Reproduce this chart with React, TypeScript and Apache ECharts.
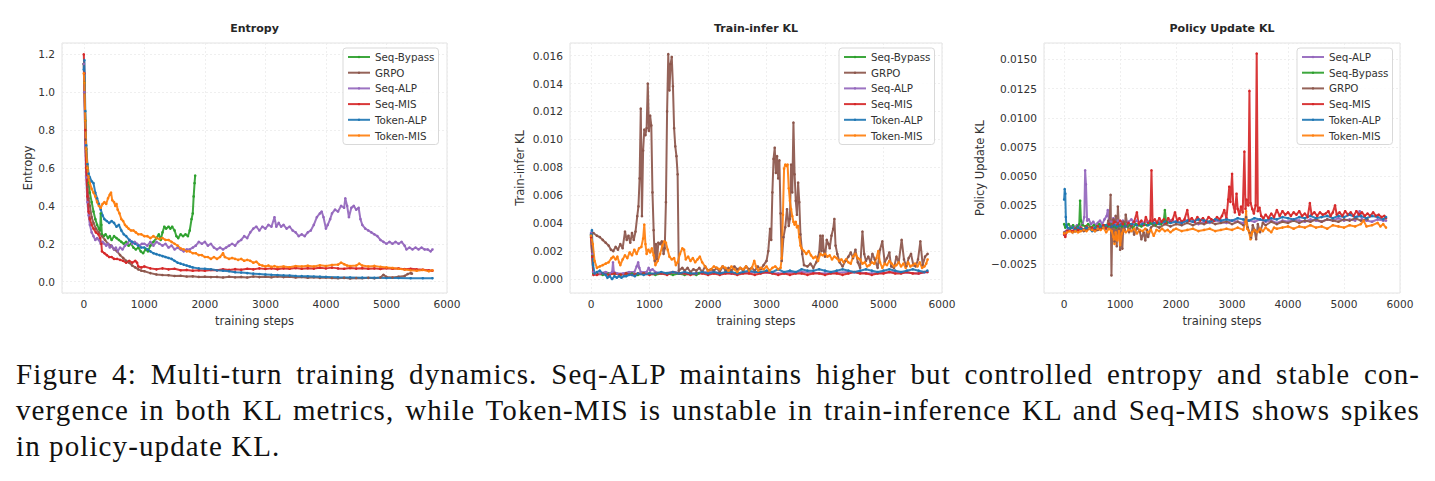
import React, { useEffect, useRef } from "react";
import * as echarts from "echarts";

type P = [number, number][];

const NAMES = ["Seq-Bypass", "GRPO", "Seq-ALP", "Seq-MIS", "Token-ALP", "Token-MIS"];
const COLORS: Record<string, string> = {
  "Seq-Bypass": "#2ca02c",
  GRPO: "#8c564b",
  "Seq-ALP": "#9467bd",
  "Seq-MIS": "#d62728",
  "Token-ALP": "#1f77b4",
  "Token-MIS": "#ff7f0e",
};
const PANEL_TITLES = ["Entropy", "Train-infer KL", "Policy Update KL"];
const Y_NAMES = ["Entropy", "Train-infer KL", "Policy Update KL"];
const X_NAME = "training steps";
const LEGEND_ORDER_1 = ["Seq-Bypass", "GRPO", "Seq-ALP", "Seq-MIS", "Token-ALP", "Token-MIS"];
const LEGEND_ORDER_3 = ["Seq-ALP", "Seq-Bypass", "GRPO", "Seq-MIS", "Token-ALP", "Token-MIS"];
const CAPTION = [
  "Figure 4: Multi-turn training dynamics. Seq-ALP maintains higher but controlled entropy and stable con-",
  "vergence in both KL metrics, while Token-MIS is unstable in train-inference KL and Seq-MIS shows spikes",
  "in policy-update KL.",
];

// ---------------- Entropy ----------------
const entSeqBypass: P = [[0,1.15],[10,1.05],[25,0.85],[40,0.7],[60,0.6],[80,0.52],[100,0.47],[130,0.42],[160,0.37],[190,0.33],[220,0.3],[250,0.28],[270,0.27],[280,0.36],[290,0.3],[300,0.25],[330,0.24],[360,0.25],[400,0.23],[430,0.24],[460,0.22],[500,0.24],[540,0.23],[580,0.22],[620,0.21],[660,0.2],[700,0.21],[740,0.19],[780,0.2],[820,0.18],[860,0.17],[900,0.18],[940,0.16],[980,0.15],[1020,0.17],[1060,0.16],[1100,0.19],[1150,0.21],[1200,0.23],[1240,0.25],[1270,0.22],[1300,0.26],[1330,0.29],[1360,0.28],[1400,0.29],[1430,0.28],[1460,0.29],[1500,0.27],[1530,0.24],[1560,0.23],[1600,0.25],[1640,0.24],[1680,0.25],[1720,0.24],[1750,0.27],[1780,0.33],[1800,0.36],[1815,0.45],[1830,0.52],[1840,0.56]];
const entGRPO: P = [[0,1.15],[10,1.0],[25,0.75],[40,0.6],[60,0.5],[80,0.44],[100,0.4],[130,0.34],[160,0.31],[200,0.28],[250,0.26],[300,0.24],[350,0.22],[400,0.2],[450,0.19],[500,0.17],[550,0.16],[600,0.14],[650,0.125],[700,0.11],[750,0.1],[800,0.085],[850,0.075],[900,0.065],[950,0.058],[1000,0.055],[1100,0.045],[1200,0.038],[1300,0.035],[1400,0.034],[1500,0.03],[1600,0.031],[1700,0.027],[1800,0.028],[1900,0.025],[2000,0.026],[2100,0.024],[2200,0.025],[2300,0.022],[2400,0.026],[2500,0.023],[2600,0.025],[2700,0.022],[2800,0.027],[2900,0.024],[3000,0.026],[3100,0.023],[3200,0.027],[3300,0.024],[3400,0.026],[3500,0.022],[3600,0.025],[3700,0.021],[3800,0.023],[3900,0.02],[4000,0.022],[4100,0.019],[4200,0.018],[4300,0.02],[4400,0.017],[4500,0.019],[4600,0.018],[4700,0.02],[4800,0.018],[4900,0.022],[4950,0.036],[5000,0.025],[5100,0.022],[5200,0.026],[5300,0.03],[5350,0.04],[5400,0.045],[5420,0.042]];
const entSeqALP: P = [[0,1.15],[10,1.0],[25,0.72],[40,0.55],[60,0.42],[80,0.35],[100,0.3],[130,0.26],[160,0.24],[190,0.22],[220,0.23],[250,0.22],[280,0.2],[310,0.21],[340,0.2],[370,0.19],[400,0.2],[430,0.18],[460,0.19],[500,0.17],[530,0.18],[560,0.16],[600,0.18],[640,0.17],[680,0.19],[720,0.2],[760,0.22],[800,0.2],[840,0.21],[880,0.2],[920,0.19],[960,0.2],[1000,0.2],[1050,0.19],[1100,0.21],[1150,0.19],[1200,0.21],[1250,0.2],[1300,0.19],[1350,0.2],[1400,0.18],[1450,0.19],[1500,0.17],[1550,0.18],[1600,0.17],[1650,0.16],[1700,0.17],[1750,0.17],[1800,0.18],[1850,0.19],[1900,0.21],[1950,0.2],[2000,0.21],[2050,0.19],[2100,0.2],[2150,0.18],[2200,0.17],[2250,0.18],[2300,0.17],[2350,0.18],[2400,0.19],[2450,0.2],[2500,0.19],[2550,0.21],[2600,0.22],[2650,0.24],[2700,0.23],[2750,0.26],[2800,0.28],[2850,0.29],[2900,0.27],[2950,0.29],[3000,0.28],[3050,0.3],[3100,0.29],[3150,0.34],[3180,0.29],[3220,0.31],[3260,0.29],[3300,0.3],[3350,0.28],[3400,0.29],[3450,0.27],[3500,0.26],[3550,0.24],[3600,0.25],[3650,0.24],[3700,0.26],[3750,0.27],[3800,0.3],[3850,0.34],[3900,0.36],[3930,0.37],[3960,0.34],[4000,0.28],[4030,0.3],[4070,0.33],[4100,0.36],[4150,0.38],[4200,0.37],[4250,0.4],[4300,0.39],[4320,0.44],[4350,0.4],[4380,0.34],[4420,0.39],[4460,0.4],[4500,0.38],[4540,0.39],[4570,0.33],[4600,0.3],[4650,0.28],[4700,0.27],[4750,0.26],[4800,0.25],[4850,0.24],[4900,0.22],[4950,0.21],[5000,0.2],[5050,0.21],[5100,0.2],[5150,0.21],[5200,0.2],[5250,0.21],[5300,0.19],[5330,0.17],[5380,0.18],[5430,0.17],[5480,0.18],[5530,0.17],[5580,0.18],[5630,0.17],[5680,0.17],[5730,0.16],[5760,0.17]];
const entSeqMIS: P = [[0,1.2],[10,1.1],[25,0.8],[40,0.6],[60,0.45],[80,0.37],[100,0.33],[130,0.3],[160,0.28],[200,0.26],[240,0.25],[270,0.23],[290,0.2],[300,0.16],[340,0.15],[380,0.14],[420,0.13],[460,0.13],[500,0.12],[550,0.12],[600,0.115],[650,0.11],[700,0.1],[750,0.11],[800,0.1],[850,0.11],[880,0.1],[900,0.08],[950,0.075],[1000,0.08],[1100,0.07],[1200,0.065],[1300,0.07],[1400,0.065],[1500,0.068],[1600,0.06],[1700,0.062],[1800,0.058],[1900,0.06],[2000,0.058],[2100,0.062],[2200,0.06],[2300,0.065],[2400,0.062],[2500,0.066],[2600,0.063],[2700,0.068],[2800,0.065],[2900,0.07],[3000,0.067],[3100,0.07],[3200,0.066],[3300,0.07],[3400,0.068],[3500,0.072],[3600,0.068],[3700,0.071],[3800,0.069],[3900,0.073],[4000,0.07],[4100,0.074],[4200,0.07],[4300,0.068],[4400,0.072],[4500,0.069],[4600,0.071],[4700,0.068],[4800,0.07],[4900,0.067],[5000,0.071],[5100,0.068],[5200,0.07],[5300,0.066],[5400,0.068],[5500,0.065],[5600,0.063],[5700,0.06],[5760,0.058]];
const entTokenALP: P = [[0,1.12],[10,1.17],[25,0.9],[40,0.72],[60,0.62],[80,0.57],[100,0.55],[130,0.53],[160,0.52],[190,0.47],[220,0.44],[250,0.41],[280,0.38],[310,0.35],[340,0.33],[380,0.32],[420,0.31],[460,0.32],[500,0.31],[540,0.29],[580,0.3],[620,0.27],[660,0.25],[700,0.24],[750,0.22],[800,0.21],[850,0.2],[900,0.19],[950,0.18],[1000,0.18],[1050,0.17],[1100,0.16],[1150,0.15],[1200,0.145],[1250,0.14],[1300,0.135],[1350,0.13],[1400,0.125],[1450,0.12],[1500,0.11],[1550,0.1],[1600,0.095],[1650,0.09],[1700,0.085],[1750,0.08],[1800,0.075],[1900,0.07],[2000,0.068],[2100,0.065],[2200,0.06],[2300,0.058],[2400,0.055],[2500,0.05],[2600,0.048],[2700,0.045],[2800,0.042],[2900,0.04],[3000,0.038],[3100,0.036],[3200,0.035],[3300,0.033],[3400,0.032],[3500,0.03],[3600,0.029],[3700,0.028],[3800,0.027],[3900,0.026],[4000,0.025],[4200,0.023],[4400,0.022],[4600,0.021],[4800,0.02],[5000,0.019],[5200,0.019],[5400,0.018],[5600,0.018],[5760,0.018]];
const entTokenMIS: P = [[0,1.1],[10,1.05],[25,0.85],[40,0.7],[60,0.6],[80,0.55],[100,0.52],[130,0.49],[160,0.47],[190,0.45],[220,0.42],[250,0.4],[280,0.39],[310,0.41],[340,0.42],[370,0.41],[400,0.44],[430,0.46],[450,0.47],[470,0.43],[500,0.42],[520,0.4],[540,0.41],[560,0.38],[590,0.36],[620,0.33],[650,0.32],[680,0.3],[710,0.29],[740,0.28],[780,0.27],[820,0.27],[860,0.26],[900,0.25],[950,0.25],[1000,0.24],[1050,0.24],[1100,0.23],[1150,0.24],[1200,0.23],[1250,0.225],[1300,0.23],[1350,0.22],[1400,0.22],[1450,0.21],[1500,0.2],[1550,0.19],[1600,0.175],[1650,0.17],[1700,0.16],[1750,0.16],[1800,0.15],[1850,0.15],[1900,0.14],[1950,0.14],[2000,0.13],[2050,0.13],[2100,0.12],[2150,0.13],[2200,0.12],[2250,0.13],[2300,0.15],[2330,0.13],[2400,0.12],[2450,0.125],[2500,0.12],[2550,0.115],[2600,0.12],[2650,0.11],[2700,0.115],[2750,0.11],[2800,0.1],[2850,0.105],[2900,0.09],[2950,0.085],[3000,0.08],[3050,0.085],[3100,0.078],[3150,0.082],[3200,0.077],[3300,0.08],[3400,0.076],[3500,0.082],[3600,0.08],[3700,0.084],[3800,0.08],[3900,0.086],[4000,0.082],[4100,0.088],[4200,0.09],[4250,0.1],[4300,0.092],[4350,0.085],[4400,0.082],[4500,0.085],[4550,0.095],[4600,0.085],[4700,0.08],[4800,0.083],[4900,0.078],[5000,0.075],[5100,0.072],[5200,0.068],[5300,0.064],[5400,0.06],[5500,0.058],[5600,0.062],[5700,0.055],[5760,0.06]];

// ---------------- Train-infer KL ----------------
const tikSeqBypass: P = [[0,0.0031],[20,0.0017],[40,0.0004],[100,0.0004],[200,0.0003],[300,0.0004],[400,0.0004],[500,0.0003],[600,0.0004],[700,0.0004],[800,0.0003],[900,0.0004],[1000,0.0004],[1100,0.0003],[1200,0.0004],[1300,0.0004],[1400,0.0003],[1500,0.0004],[1600,0.0003],[1700,0.0004],[1800,0.0003],[1840,0.0004]];
const tikGRPO: P = [[0,0.0032],[40,0.0033],[100,0.0031],[150,0.003],[200,0.0028],[250,0.0026],[300,0.0024],[340,0.0021],[380,0.002],[420,0.0023],[460,0.0021],[500,0.0025],[540,0.0022],[580,0.0034],[610,0.0028],[640,0.0031],[670,0.0026],[700,0.0033],[730,0.0028],[760,0.0034],[790,0.0045],[810,0.0052],[830,0.0072],[850,0.0122],[870,0.0045],[890,0.0092],[910,0.0107],[930,0.0103],[950,0.0108],[970,0.014],[990,0.0106],[1010,0.0117],[1030,0.011],[1050,0.0062],[1070,0.0035],[1090,0.0013],[1110,0.0025],[1130,0.0014],[1150,0.0026],[1180,0.0025],[1210,0.0027],[1240,0.0018],[1260,0.0022],[1280,0.0055],[1300,0.012],[1320,0.0161],[1340,0.0135],[1360,0.0154],[1380,0.0159],[1400,0.0138],[1420,0.0108],[1440,0.0095],[1460,0.0088],[1480,0.0075],[1500,0.0006],[1560,0.0008],[1600,0.0006],[1650,0.0008],[1700,0.0005],[1750,0.0007],[1800,0.0006],[1850,0.0008],[1900,0.0005],[1950,0.0009],[2000,0.0006],[2050,0.0007],[2100,0.0006],[2150,0.0008],[2200,0.0005],[2250,0.0009],[2300,0.0006],[2350,0.0008],[2400,0.0006],[2450,0.0009],[2500,0.0007],[2550,0.0008],[2600,0.0006],[2650,0.0009],[2700,0.0007],[2750,0.0008],[2800,0.0006],[2850,0.0009],[2900,0.0007],[2950,0.001],[3000,0.0013],[3030,0.002],[3060,0.0036],[3080,0.0028],[3100,0.0062],[3120,0.0086],[3140,0.0094],[3160,0.0076],[3180,0.0088],[3200,0.0072],[3220,0.0085],[3240,0.0047],[3260,0.0013],[3290,0.003],[3320,0.0037],[3350,0.005],[3380,0.0038],[3400,0.0043],[3420,0.0082],[3440,0.0062],[3460,0.0112],[3480,0.0075],[3500,0.0056],[3520,0.0046],[3540,0.0069],[3560,0.0055],[3580,0.0032],[3610,0.0018],[3640,0.001],[3700,0.0009],[3750,0.0011],[3800,0.0008],[3850,0.0012],[3900,0.0019],[3920,0.0031],[3940,0.002],[3960,0.0031],[3980,0.002],[4000,0.0016],[4030,0.0028],[4060,0.0025],[4080,0.0022],[4110,0.0031],[4140,0.0036],[4160,0.0043],[4180,0.0024],[4210,0.0018],[4250,0.0012],[4300,0.0009],[4350,0.0013],[4400,0.0016],[4440,0.0019],[4480,0.0015],[4520,0.0021],[4560,0.0012],[4600,0.0008],[4640,0.0034],[4670,0.0018],[4700,0.0013],[4740,0.0016],[4780,0.0012],[4810,0.0018],[4850,0.0014],[4900,0.0008],[4940,0.0021],[4980,0.0027],[5020,0.0012],[5060,0.0015],[5100,0.0019],[5130,0.0009],[5180,0.0008],[5220,0.0016],[5260,0.0012],[5310,0.0028],[5350,0.0014],[5390,0.0009],[5430,0.0015],[5470,0.0018],[5510,0.001],[5550,0.0009],[5590,0.0014],[5630,0.0027],[5670,0.001],[5710,0.0016],[5754,0.0018]];
const tikSeqALP: P = [[0,0.0033],[20,0.0018],[40,0.0005],[80,0.0004],[150,0.0004],[250,0.0005],[320,0.0004],[360,0.0005],[375,0.0012],[390,0.0005],[450,0.0004],[550,0.0004],[650,0.0005],[740,0.0005],[780,0.0009],[805,0.0012],[825,0.0008],[850,0.0005],[950,0.0005],[985,0.0008],[1010,0.0006],[1050,0.0007],[1100,0.0005],[1200,0.0004],[1400,0.0005],[1600,0.0004],[1800,0.0004],[2000,0.0005],[2400,0.0004],[2800,0.0005],[3200,0.0004],[3600,0.0005],[4000,0.0004],[4400,0.0005],[4800,0.0004],[5200,0.0005],[5600,0.0004],[5750,0.0005]];
const tikSeqMIS: P = [[0,0.003],[20,0.0016],[40,0.0003],[100,0.0003],[200,0.0004],[300,0.0003],[400,0.0004],[500,0.0003],[600,0.0004],[700,0.0003],[800,0.0004],[900,0.0004],[1000,0.0003],[1100,0.0004],[1200,0.0004],[1300,0.0003],[1400,0.0005],[1500,0.0004],[1600,0.0004],[1700,0.0003],[1800,0.0004],[1900,0.0004],[2000,0.0003],[2100,0.0004],[2200,0.0003],[2300,0.0004],[2400,0.0004],[2500,0.0003],[2600,0.0004],[2700,0.0004],[2800,0.0003],[2900,0.0004],[3000,0.0005],[3100,0.0004],[3200,0.0003],[3300,0.0004],[3400,0.0003],[3500,0.0004],[3600,0.0004],[3700,0.0003],[3800,0.0004],[3900,0.0004],[4000,0.0003],[4100,0.0004],[4200,0.0004],[4300,0.0003],[4400,0.0004],[4500,0.0005],[4600,0.0004],[4700,0.0004],[4800,0.0003],[4900,0.0004],[5000,0.0004],[5100,0.0005],[5200,0.0004],[5300,0.0004],[5400,0.0005],[5500,0.0004],[5600,0.0004],[5700,0.0005],[5750,0.0005]];
const tikTokenALP: P = [[0,0.0032],[15,0.0035],[35,0.001],[60,0.0004],[100,0.0005],[150,0.0006],[200,0.0004],[250,0.0003],[280,0.0001],[320,0.0002],[360,0.0],[400,0.0002],[440,0.0001],[480,0.0002],[520,0.0001],[560,0.0002],[600,0.0002],[650,0.0003],[700,0.0003],[750,0.0002],[800,0.0004],[900,0.0003],[1000,0.0004],[1100,0.0004],[1200,0.0005],[1300,0.0004],[1400,0.0005],[1500,0.0004],[1600,0.0005],[1700,0.0004],[1800,0.0004],[1900,0.0005],[2000,0.0004],[2100,0.0005],[2200,0.0004],[2300,0.0005],[2400,0.0005],[2500,0.0004],[2600,0.0005],[2700,0.0006],[2800,0.0005],[2900,0.0005],[3000,0.0006],[3100,0.0005],[3200,0.0007],[3300,0.0005],[3400,0.0006],[3500,0.0005],[3600,0.0007],[3700,0.0006],[3800,0.0006],[3900,0.0007],[4000,0.0006],[4100,0.0005],[4200,0.0006],[4300,0.0007],[4400,0.0006],[4500,0.0005],[4600,0.0006],[4700,0.0007],[4800,0.0006],[4900,0.0005],[5000,0.0006],[5100,0.0007],[5200,0.0006],[5300,0.0005],[5400,0.0006],[5500,0.0007],[5600,0.0006],[5700,0.0005],[5750,0.0006]];
const tikTokenMIS: P = [[0,0.0031],[30,0.0025],[60,0.0013],[100,0.0008],[150,0.0009],[200,0.001],[250,0.0011],[300,0.0012],[350,0.0015],[380,0.0016],[420,0.0014],[450,0.0016],[480,0.0012],[500,0.001],[540,0.0014],[580,0.0017],[620,0.0015],[660,0.0019],[700,0.0017],[740,0.0021],[780,0.0018],[820,0.0022],[860,0.0023],[890,0.0029],[910,0.0039],[930,0.0025],[950,0.0018],[980,0.0021],[1010,0.0019],[1040,0.0022],[1070,0.0017],[1100,0.001],[1140,0.0013],[1180,0.0018],[1220,0.0024],[1250,0.0027],[1280,0.0026],[1310,0.0021],[1340,0.0016],[1380,0.0014],[1420,0.0015],[1450,0.001],[1480,0.0012],[1520,0.0018],[1560,0.0022],[1590,0.0021],[1620,0.0014],[1660,0.0016],[1700,0.0013],[1740,0.0015],[1780,0.0012],[1820,0.0014],[1860,0.0016],[1900,0.0012],[1950,0.0009],[2000,0.0006],[2050,0.0007],[2100,0.0009],[2150,0.0008],[2200,0.0007],[2250,0.0009],[2300,0.0008],[2350,0.0006],[2400,0.0009],[2450,0.0007],[2500,0.0005],[2550,0.0008],[2600,0.0007],[2650,0.0009],[2700,0.0006],[2750,0.0008],[2790,0.0013],[2820,0.0009],[2860,0.0006],[2900,0.0008],[2950,0.0007],[3000,0.0009],[3050,0.0006],[3100,0.0008],[3150,0.0009],[3200,0.0007],[3240,0.0008],[3260,0.0015],[3280,0.0046],[3300,0.0079],[3320,0.0082],[3340,0.0081],[3360,0.0082],[3380,0.0065],[3400,0.0056],[3420,0.005],[3440,0.0045],[3460,0.0041],[3480,0.0039],[3500,0.0041],[3520,0.0037],[3540,0.0038],[3560,0.003],[3580,0.0024],[3600,0.0022],[3640,0.002],[3680,0.0018],[3720,0.002],[3760,0.0017],[3800,0.0015],[3840,0.0016],[3880,0.0013],[3920,0.0018],[3960,0.0017],[4000,0.0018],[4040,0.0016],[4080,0.0017],[4120,0.0014],[4160,0.0016],[4200,0.0015],[4240,0.0013],[4280,0.0014],[4320,0.0012],[4360,0.0014],[4400,0.0012],[4440,0.0011],[4480,0.0016],[4520,0.0018],[4560,0.0015],[4600,0.0014],[4640,0.0011],[4680,0.0012],[4720,0.0009],[4760,0.001],[4800,0.0012],[4840,0.0011],[4880,0.0015],[4910,0.002],[4940,0.0012],[4980,0.0008],[5020,0.0011],[5060,0.001],[5100,0.0013],[5140,0.0011],[5180,0.0009],[5220,0.001],[5260,0.0012],[5300,0.0009],[5340,0.0011],[5380,0.0008],[5420,0.0012],[5460,0.0009],[5500,0.001],[5540,0.0011],[5580,0.0009],[5620,0.0012],[5660,0.0008],[5700,0.0009],[5730,0.0011],[5754,0.0014]];

// ---------------- Policy Update KL ----------------
const pukSeqALP: P = [[0,0.0],[30,0.0003],[80,0.0005],[130,0.0007],[180,0.0006],[230,0.0008],[280,0.0007],[330,0.0009],[360,0.0015],[375,0.0055],[390,0.0043],[410,0.0012],[440,0.0013],[480,0.0009],[520,0.0011],[560,0.0008],[600,0.001],[640,0.0012],[680,0.0009],[720,0.0013],[760,0.0016],[780,0.0021],[800,0.0012],[840,0.0011],[880,0.0014],[920,0.0009],[960,0.0012],[1000,0.001],[1050,0.0012],[1100,0.0009],[1150,0.0011],[1200,0.0013],[1250,0.001],[1300,0.0012],[1400,0.001],[1500,0.0011],[1600,0.0009],[1700,0.0011],[1800,0.001],[1900,0.0012],[2000,0.0011],[2100,0.001],[2200,0.0012],[2300,0.0011],[2400,0.0009],[2500,0.0011],[2600,0.001],[2700,0.0012],[2800,0.0011],[2900,0.001],[3000,0.0012],[3100,0.0011],[3200,0.001],[3300,0.0012],[3400,0.0011],[3500,0.0013],[3600,0.0011],[3700,0.0012],[3800,0.001],[3900,0.0012],[4000,0.0011],[4100,0.0013],[4200,0.0012],[4300,0.0011],[4400,0.0013],[4500,0.0012],[4600,0.0011],[4700,0.0013],[4800,0.0012],[4900,0.0014],[5000,0.0012],[5100,0.0013],[5200,0.0012],[5280,0.002],[5320,0.0013],[5400,0.0012],[5500,0.0011],[5600,0.0013],[5700,0.0012],[5750,0.0012]];
const pukSeqBypass: P = [[0,0.0009],[20,0.0006],[40,0.0008],[80,0.0009],[120,0.0006],[160,0.0008],[200,0.0005],[240,0.0007],[270,0.0009],[285,0.0029],[300,0.0012],[330,0.0008],[380,0.0007],[430,0.0009],[480,0.0006],[530,0.0008],[580,0.0007],[630,0.0009],[680,0.0006],[730,0.0008],[780,0.0007],[830,0.0009],[880,0.0007],[930,0.0006],[980,0.0008],[1030,0.0007],[1080,0.0009],[1130,0.0007],[1180,0.0008],[1230,0.0006],[1280,0.0009],[1330,0.0008],[1380,0.0007],[1430,0.0009],[1480,0.0008],[1530,0.001],[1580,0.0009],[1630,0.0008],[1680,0.001],[1730,0.0009],[1780,0.0012],[1800,0.0021],[1820,0.0011],[1840,0.001]];
const pukGRPO: P = [[0,0.0002],[50,0.0003],[100,0.0004],[150,0.0002],[200,0.0003],[250,0.0004],[300,0.0005],[350,0.0003],[400,0.0004],[450,0.0006],[500,0.0005],[550,0.0003],[600,0.0004],[650,0.0006],[700,0.0007],[750,0.0005],[790,0.0012],[810,0.0009],[830,0.0034],[845,-0.0035],[860,0.0008],[880,0.0013],[900,-0.0006],[920,0.0016],[940,-0.001],[960,0.0024],[980,0.0005],[1000,-0.0013],[1020,0.0009],[1040,-0.0012],[1060,0.0011],[1080,0.0004],[1100,0.0017],[1130,0.0008],[1160,0.0002],[1200,0.0009],[1250,0.0],[1300,0.0006],[1350,0.0003],[1380,-0.0004],[1420,0.0002],[1450,-0.0005],[1480,0.0004],[1500,-0.0002],[1550,0.0006],[1600,0.0008],[1700,0.0006],[1800,0.0009],[1900,0.0007],[2000,0.0009],[2100,0.0008],[2200,0.001],[2300,0.0008],[2400,0.001],[2500,0.0009],[2600,0.0011],[2700,0.0009],[2800,0.001],[2900,0.0011],[3000,0.0009],[3100,0.0011],[3200,0.0008],[3250,0.0015],[3280,0.0006],[3310,0.0002],[3340,-0.0003],[3370,0.0008],[3400,0.0004],[3430,-0.0004],[3460,0.0009],[3500,0.0002],[3550,0.001],[3600,0.0008],[3700,0.0011],[3800,0.0009],[3900,0.0011],[4000,0.001],[4100,0.0012],[4200,0.001],[4300,0.0012],[4400,0.0011],[4500,0.0013],[4600,0.0011],[4700,0.0013],[4800,0.0012],[4900,0.0011],[5000,0.0013],[5100,0.0012],[5200,0.0014],[5300,0.0012],[5420,0.0013]];
const pukSeqMIS: P = [[0,0.0],[20,-0.0002],[50,0.0003],[100,0.0004],[150,0.0003],[200,0.0005],[250,0.0004],[300,0.0006],[350,0.0004],[400,0.0007],[450,0.0005],[500,0.0006],[550,0.0004],[600,0.0007],[650,0.0005],[700,0.0008],[750,0.0006],[800,0.0009],[850,0.0007],[900,0.0011],[950,0.0008],[1000,0.0012],[1050,0.0009],[1100,0.0007],[1150,0.001],[1200,0.0008],[1250,0.0011],[1300,0.0019],[1330,0.0009],[1380,0.0012],[1420,0.0008],[1460,0.0015],[1500,0.001],[1540,0.0012],[1560,0.0055],[1580,0.0011],[1620,0.0013],[1660,0.001],[1700,0.0014],[1740,0.0011],[1780,0.0013],[1820,0.001],[1860,0.0014],[1900,0.0011],[1940,0.0013],[1980,0.0019],[2020,0.0012],[2060,0.0014],[2100,0.0011],[2150,0.0013],[2200,0.0021],[2230,0.0012],[2280,0.0014],[2330,0.0011],[2380,0.0015],[2430,0.0012],[2480,0.0014],[2530,0.0011],[2580,0.0015],[2630,0.0013],[2680,0.0012],[2730,0.0015],[2780,0.0013],[2820,0.0016],[2860,0.0021],[2900,0.0014],[2930,0.003],[2950,0.0041],[2970,0.0028],[3000,0.0052],[3020,0.0026],[3050,0.0019],[3080,0.0035],[3100,0.0022],[3130,0.0017],[3160,0.0024],[3190,0.0019],[3220,0.0071],[3240,0.0022],[3260,0.003],[3290,0.0025],[3310,0.0123],[3330,0.0027],[3360,0.0022],[3390,0.0018],[3420,0.0025],[3440,0.0155],[3460,0.002],[3490,0.0023],[3520,0.0016],[3560,0.0014],[3600,0.0017],[3650,0.0014],[3700,0.0018],[3750,0.0015],[3800,0.0021],[3850,0.0016],[3900,0.002],[3950,0.0017],[4000,0.0019],[4050,0.0016],[4100,0.0019],[4150,0.0017],[4200,0.002],[4250,0.0016],[4300,0.0018],[4350,0.0015],[4390,0.0027],[4420,0.0017],[4470,0.0019],[4520,0.0016],[4570,0.0019],[4620,0.0017],[4670,0.0018],[4720,0.002],[4760,0.0016],[4800,0.0019],[4840,0.0025],[4870,0.0017],[4920,0.0019],[4970,0.0016],[5020,0.002],[5070,0.0017],[5120,0.0019],[5170,0.0016],[5220,0.002],[5270,0.0017],[5320,0.0019],[5370,0.0016],[5420,0.0018],[5470,0.0016],[5520,0.0019],[5570,0.0016],[5620,0.0017],[5670,0.0015],[5720,0.0016],[5750,0.0014]];
const pukTokenALP: P = [[0,0.003],[10,0.0039],[20,0.0035],[30,0.0015],[40,0.0008],[60,0.0006],[100,0.0005],[150,0.0006],[200,0.0004],[250,0.0006],[300,0.0005],[350,0.0004],[400,0.0006],[450,0.0005],[500,0.0003],[550,0.0006],[600,0.0005],[650,0.0007],[700,0.0006],[750,0.0008],[800,0.0006],[850,0.0007],[900,0.0008],[950,0.0007],[1000,0.0008],[1100,0.0007],[1200,0.0009],[1300,0.0008],[1400,0.0009],[1500,0.0008],[1600,0.001],[1700,0.0009],[1800,0.0011],[1900,0.001],[2000,0.0011],[2100,0.001],[2200,0.0012],[2300,0.0011],[2400,0.0013],[2500,0.0012],[2600,0.0011],[2700,0.0013],[2800,0.0012],[2900,0.0013],[3000,0.0012],[3100,0.0014],[3200,0.0013],[3300,0.0012],[3400,0.0014],[3500,0.0013],[3600,0.0012],[3700,0.0014],[3800,0.0013],[3900,0.0015],[4000,0.0014],[4100,0.0013],[4200,0.0015],[4300,0.0014],[4400,0.0016],[4500,0.0014],[4600,0.0015],[4700,0.0016],[4800,0.0014],[4900,0.0016],[5000,0.0015],[5100,0.0017],[5200,0.0015],[5300,0.0016],[5400,0.0014],[5500,0.0016],[5600,0.0015],[5700,0.0013],[5750,0.0015]];
const pukTokenMIS: P = [[0,0.0001],[50,0.0002],[100,0.0003],[150,0.0002],[200,0.0003],[250,0.0002],[300,0.0003],[350,0.0004],[400,0.0003],[450,0.0005],[500,0.0004],[550,0.0003],[600,0.0005],[650,0.0004],[700,0.0006],[750,0.0002],[800,0.0005],[850,0.0003],[880,-0.0002],[900,-0.0008],[920,0.0002],[950,-0.0005],[980,0.0003],[1000,-0.0009],[1030,0.0001],[1060,0.0004],[1100,0.0002],[1150,0.0004],[1200,0.0003],[1250,0.0005],[1300,0.0001],[1350,0.0004],[1400,0.0003],[1450,0.0005],[1500,0.0002],[1550,0.0004],[1600,-0.0001],[1650,0.0004],[1700,0.0003],[1750,0.0005],[1800,0.0003],[1850,0.0004],[1900,0.0002],[1950,0.0004],[2000,0.0005],[2100,0.0003],[2200,0.0004],[2300,0.0005],[2400,0.0003],[2500,0.0004],[2600,0.0005],[2700,0.0003],[2800,0.0004],[2900,0.0005],[3000,0.0004],[3100,0.0006],[3200,0.0004],[3240,0.0011],[3250,0.002],[3270,0.0005],[3300,0.0003],[3330,-0.0004],[3360,0.0002],[3400,0.0004],[3450,0.0002],[3500,0.0005],[3550,0.0003],[3600,0.0006],[3650,0.0004],[3700,0.0002],[3750,0.0006],[3800,0.0005],[3900,0.0006],[4000,0.0007],[4100,0.0005],[4200,0.0007],[4300,0.0006],[4400,0.0008],[4500,0.0006],[4600,0.0007],[4700,0.0005],[4800,0.0008],[4900,0.0007],[5000,0.0006],[5100,0.0008],[5200,0.0007],[5300,0.0009],[5350,0.0012],[5400,0.0007],[5500,0.0008],[5600,0.001],[5650,0.0007],[5700,0.0009],[5750,0.0006]];

const PANEL_DATA: Record<string, P>[] = [
  { "Seq-Bypass": entSeqBypass, GRPO: entGRPO, "Seq-ALP": entSeqALP, "Seq-MIS": entSeqMIS, "Token-ALP": entTokenALP, "Token-MIS": entTokenMIS },
  { "Seq-Bypass": tikSeqBypass, GRPO: tikGRPO, "Seq-ALP": tikSeqALP, "Seq-MIS": tikSeqMIS, "Token-ALP": tikTokenALP, "Token-MIS": tikTokenMIS },
  { "Seq-ALP": pukSeqALP, "Seq-Bypass": pukSeqBypass, GRPO: pukGRPO, "Seq-MIS": pukSeqMIS, "Token-ALP": pukTokenALP, "Token-MIS": pukTokenMIS },
];
const PLOT_ORDER = [LEGEND_ORDER_1, NAMES, LEGEND_ORDER_3];

const GRIDS = [
  { left: 62, top: 43, width: 385, height: 250 },
  { left: 570, top: 43, width: 372, height: 250 },
  { left: 1044, top: 43, width: 356, height: 250 },
];
const TEXT = "#333333";
const FONT = "DejaVu Sans";

export default function App() {
  const ref = useRef<HTMLDivElement>(null);
  useEffect(() => {
    if (!ref.current) return;
    const chart = echarts.init(ref.current, undefined, { renderer: "svg" });
    const minus = (s: string) => s.replace("-", "\u2212");
    const yCfg = [
      { min: -0.06, max: 1.26, splitNumber: 6, fmt: (v: number) => minus(v.toFixed(1)), gap: 28 },
      { min: -0.001, max: 0.0169, splitNumber: 9, fmt: (v: number) => minus(v.toFixed(3)), gap: 44 },
      { min: -0.005, max: 0.0164, interval: 0.0025, fmt: (v: number) => minus(v.toFixed(4)), gap: 58 },
    ];
    const splitLine = { show: true, lineStyle: { color: "#ebebeb", width: 0.8, type: [2, 2] as any } };
    const xAxis = GRIDS.map((_, i) => ({
      type: "value",
      gridIndex: i,
      min: -360,
      max: 6000,
      splitNumber: 6,
      axisLine: { show: false },
      axisTick: { show: false },
      splitLine,
      axisLabel: {
        color: TEXT, fontSize: 10.6, fontFamily: FONT, margin: 5,
        showMinLabel: false,
        formatter: (v: number) => String(Math.round(v)),
      },
      name: X_NAME,
      nameLocation: "middle",
      nameGap: 22,
      nameTextStyle: { color: TEXT, fontSize: 11.5, fontFamily: FONT },
    }));
    const yAxis = GRIDS.map((_, i) => {
      const c: any = yCfg[i];
      const ax: any = {
        type: "value",
        gridIndex: i,
        min: c.min,
        max: c.max,
        axisLine: { show: false },
        axisTick: { show: false },
        splitLine,
        axisLabel: {
          color: TEXT, fontSize: 10.6, fontFamily: FONT, margin: 7,
          showMinLabel: false, showMaxLabel: false,
          formatter: c.fmt,
        },
        name: Y_NAMES[i],
        nameLocation: "middle",
        nameGap: c.gap,
        nameTextStyle: { color: TEXT, fontSize: 11.5, fontFamily: FONT },
      };
      if (c.interval) ax.interval = c.interval;
      else ax.splitNumber = c.splitNumber;
      return ax;
    });
    const series: any[] = [];
    PANEL_DATA.forEach((panel, i) => {
      PLOT_ORDER[i].forEach((name) => {
        series.push({
          type: "line",
          name,
          xAxisIndex: i,
          yAxisIndex: i,
          data: panel[name],
          color: COLORS[name],
          symbol: "circle",
          symbolSize: 2.6,
          showSymbol: true,
          showAllSymbol: true,
          lineStyle: { width: 2, color: COLORS[name], opacity: 0.92 },
          itemStyle: { color: COLORS[name] },
          emphasis: { disabled: true },
        });
      });
    });
    const legendLefts = [343, 839, 1297];
    const legendOrders = [LEGEND_ORDER_1, LEGEND_ORDER_1, LEGEND_ORDER_3];
    const legend = legendLefts.map((l, i) => ({
      data: legendOrders[i],
      left: l,
      top: 48,
      orient: "vertical",
      itemWidth: 22,
      itemHeight: 3,
      itemGap: 3.7,
      padding: [3, 4, 3, 4],
      backgroundColor: "rgba(255,255,255,0.85)",
      borderColor: "#d9d9d9",
      borderWidth: 1,
      borderRadius: 3,
      selectedMode: false,
      textStyle: { color: TEXT, fontSize: 10.3, fontFamily: FONT, lineHeight: 12 },
    }));
    const centers = GRIDS.map((g) => g.left + g.width / 2);
    chart.setOption({
      animation: false,
      backgroundColor: "#ffffff",
      title: PANEL_TITLES.map((t, i) => ({
        text: t,
        left: centers[i],
        top: 23,
        textAlign: "center",
        padding: 0,
        textStyle: { color: "#262626", fontSize: 11, fontWeight: "bold", fontFamily: FONT },
      })),
      grid: GRIDS.map((g) => ({ ...g, show: true, borderColor: "#e3e3e3", borderWidth: 1, backgroundColor: "transparent" })),
      xAxis,
      yAxis,
      legend,
      series,
    });
    return () => chart.dispose();
  }, []);

  return (
    <div style={{ position: "fixed", left: 0, top: 0, width: 1435, height: 481, background: "#fff", overflow: "hidden" }}>
      <div ref={ref} style={{ position: "absolute", left: 0, top: 0, width: 1435, height: 340 }} />
      <div
        style={{
          position: "absolute", left: 16, top: 356, width: 1404,
          fontFamily: "'Liberation Serif', serif", fontSize: 29, lineHeight: "36px", color: "#111",
          letterSpacing: "1.1px",
        }}
      >
        {CAPTION.map((line, i) => (
          <div key={i} style={{ textAlign: "justify", textAlignLast: i < CAPTION.length - 1 ? "justify" : "left" } as any}>
            {line}
          </div>
        ))}
      </div>
    </div>
  );
}
